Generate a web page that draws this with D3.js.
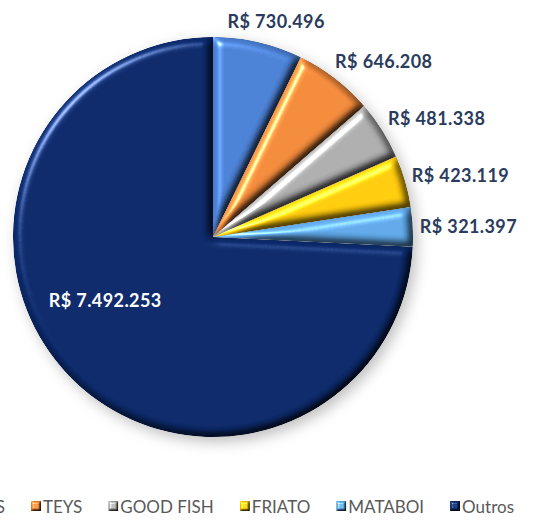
<!DOCTYPE html>
<html><head><meta charset="utf-8">
<script src="https://cdn.jsdelivr.net/npm/d3@7"></script>
<style>html,body{margin:0;padding:0;background:#fff;overflow:hidden}</style>
</head><body>
<svg id="chart" width="556" height="524"></svg>
<script>
const categories = ["JBS", "TEYS", "GOOD FISH", "FRIATO", "MATABOI", "Outros"];
const values = [730496, 646208, 481338, 423119, 321397, 7492253];
const colors = ["#4a7fd2", "#f0883a", "#ababab", "#ffc90c", "#5fa6e6", "#0b2868"];

const W = 556, H = 524, cx = 213, cy = 237, R = 200;
const svg = d3.select("#chart");
const defs = svg.append("defs");

function bevel(id, sd, scale, exp) {
  const f = defs.append("filter").attr("id", id)
    .attr("color-interpolation-filters", "sRGB")
    .attr("filterUnits", "userSpaceOnUse").attr("x", -W).attr("y", -H).attr("width", 3 * W).attr("height", 3 * H);
  f.append("feGaussianBlur").attr("in", "SourceAlpha").attr("stdDeviation", sd).attr("result", "blur");
  const sp = f.append("feSpecularLighting").attr("in", "blur").attr("surfaceScale", scale)
    .attr("specularConstant", 0.8).attr("specularExponent", exp).attr("lighting-color", "#ffffff").attr("result", "spec");
  sp.append("feDistantLight").attr("azimuth", 225).attr("elevation", 40);
  f.append("feComposite").attr("in", "spec").attr("in2", "SourceAlpha").attr("operator", "in").attr("result", "specIn");
  const df = f.append("feDiffuseLighting").attr("in", "blur").attr("surfaceScale", scale)
    .attr("diffuseConstant", 1).attr("lighting-color", "#ffffff").attr("result", "diff");
  df.append("feDistantLight").attr("azimuth", 225).attr("elevation", 60);
  f.append("feComposite").attr("in", "SourceGraphic").attr("in2", "diff").attr("operator", "arithmetic")
    .attr("k1", 1.155).attr("k2", 0).attr("k3", 0).attr("k4", 0).attr("result", "shaded");
  f.append("feComposite").attr("in", "shaded").attr("in2", "SourceAlpha").attr("operator", "in").attr("result", "shadedIn");
  f.append("feComposite").attr("in", "shadedIn").attr("in2", "specIn").attr("operator", "arithmetic")
    .attr("k1", 0).attr("k2", 1).attr("k3", 0.75).attr("k4", 0);
}
bevel("bevel", 4.5, 6, 35);
bevel("bevelSmall", 1.2, 2.5, 20);

const shadow = defs.append("filter").attr("id", "shadow")
  .attr("color-interpolation-filters", "sRGB")
  .attr("filterUnits", "userSpaceOnUse").attr("x", -W).attr("y", -H).attr("width", 3 * W).attr("height", 3 * H);
shadow.append("feDropShadow").attr("dx", 4).attr("dy", 5).attr("stdDeviation", 7)
  .attr("flood-color", "#000").attr("flood-opacity", 0.25);

const data = categories.map((c, i) => ({ name: c, value: values[i], color: colors[i] }));
const pie = d3.pie().sort(null).value(d => d.value).startAngle(0).endAngle(2 * Math.PI);
const arcs = pie(data);
const arc = d3.arc().innerRadius(0).outerRadius(R);

const pieG = svg.append("g").attr("filter", "url(#shadow)")
  .append("g").attr("transform", `translate(${cx},${cy})`);
pieG.selectAll("path.slice").data(arcs).join("path")
  .attr("class", "slice")
  .attr("d", arc)
  .attr("fill", d => d.data.color)
  .attr("filter", "url(#bevel)");

const brl = d3.formatLocale({ decimal: ",", thousands: ".", grouping: [3], currency: ["R$ ", ""] });
const fmt = brl.format("$,.0f");

const maxV = d3.max(values);
const lbl = svg.append("g");
arcs.forEach(d => {
  const a = (d.startAngle + d.endAngle) / 2;
  const inside = d.data.value === maxV;
  const t = lbl.append("text")
    .attr("text-anchor", "middle").attr("dominant-baseline", "central")
    .attr("font-family", "Lato, 'Open Sans', sans-serif").attr("font-weight", "bold")
    .attr("font-size", 18).attr("letter-spacing", 0.4)
    .attr("fill", inside ? "#ffffff" : "#2a3b5e")
    .text(fmt(d.data.value));
  const w = t.node().getComputedTextLength();
  let x, y;
  if (inside) {
    x = cx + 0.62 * R * Math.sin(a) - 18;
    y = cy - 0.62 * R * Math.cos(a) - 23;
  } else {
    x = cx + (R + 7) * Math.sin(a) + (w / 2) * Math.min(1, 1.5 * Math.sin(a));
    y = cy - (R + 22) * Math.cos(a);
  }
  t.attr("x", x).attr("y", y);
});

// Legend
const lg = svg.append("g");
const items = lg.selectAll("g").data(data).join("g");
items.append("rect").attr("width", 10).attr("height", 10).attr("y", -5)
  .attr("fill", d => d.color).attr("filter", "url(#bevelSmall)");
const txt = items.append("text").attr("x", 12).attr("y", 0).attr("dominant-baseline", "central")
  .attr("font-family", "Lato, 'Open Sans', sans-serif").attr("font-size", 17).attr("fill", "#595959")
  .text(d => d.name);
let xs = [], pos = 0;
const gap = 26;
txt.each(function () { xs.push(pos); pos += 12 + this.getComputedTextLength() + gap; });
const totalEnd = pos - gap;
const shift = 514 - totalEnd;
items.attr("transform", (d, i) => `translate(${xs[i] + shift},506)`);
</script>
</body></html>
